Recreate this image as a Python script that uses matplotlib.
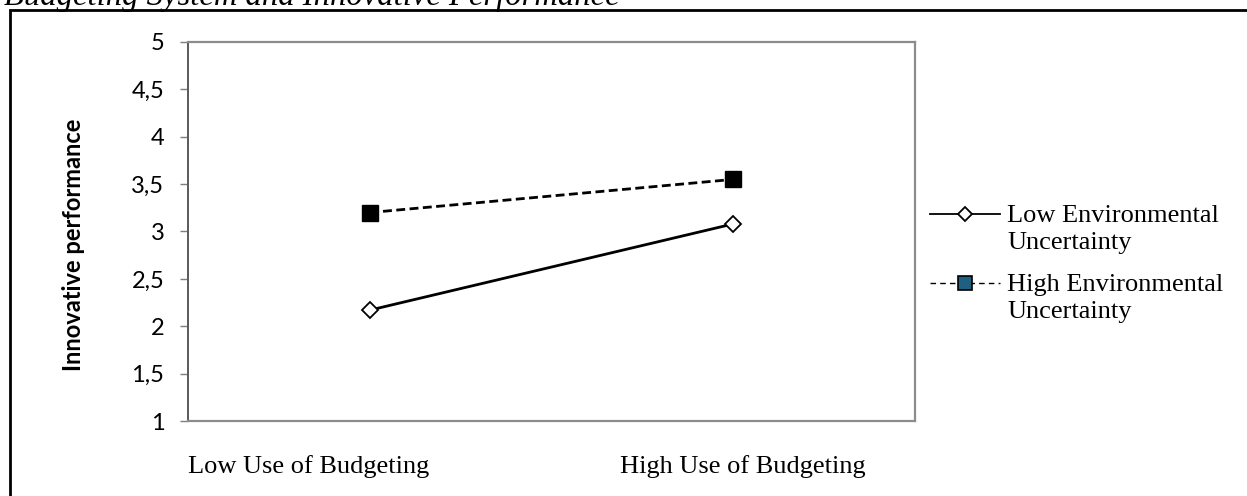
import numpy as np
import matplotlib
matplotlib.use("Agg")
import matplotlib.pyplot as plt
from matplotlib.legend_handler import HandlerLine2D
from matplotlib.patches import Rectangle

# ---- data ----
categories = ["Low Use of Budgeting", "High Use of Budgeting"]
low_uncertainty = [2.17, 3.08]
high_uncertainty = [3.20, 3.55]
series_labels = ["Low Environmental\nUncertainty", "High Environmental\nUncertainty"]
yticks = [1, 1.5, 2, 2.5, 3, 3.5, 4, 4.5, 5]
ytick_labels = ["1", "1,5", "2", "2,5", "3", "3,5", "4", "4,5", "5"]
title = "Budgeting System and Innovative Performance"
ylabel = "Innovative performance"

W, H = 1247, 496
fig = plt.figure(figsize=(W / 100, H / 100), dpi=100)

def fx(px):
    return px / W

def fy(py):
    return 1 - py / H

ax_left, ax_right, ax_top, ax_bot = 188, 915, 42, 421
ax = fig.add_axes([fx(ax_left), fy(ax_bot), fx(ax_right - ax_left), (ax_bot - ax_top) / H])

x = np.arange(len(categories))
ax.plot(x, low_uncertainty, color="black", lw=2.0, marker="D", markersize=8,
        markerfacecolor="white", markeredgecolor="black", markeredgewidth=1.3,
        label=series_labels[0], zorder=3)
ax.plot(x, high_uncertainty, color="black", lw=2.0, ls=(0, (3.2, 1.6)), marker="s",
        markersize=11, markerfacecolor="black", markeredgecolor="black",
        label=series_labels[1], zorder=3)

ax.set_xlim(-0.5, len(categories) - 0.5)
ax.set_ylim(1, 5)
ax.set_yticks(yticks)
ax.set_yticklabels(ytick_labels, fontfamily="Lato", fontsize=17)
ax.tick_params(axis="y", length=6, width=1.0, color="#7f7f7f", pad=11)
ax.set_xticks([])

for side in ["top", "right", "bottom"]:
    ax.spines[side].set_color("#8c8c8c")
    ax.spines[side].set_linewidth(1.6)
ax.spines["left"].set_color("#5a5a5a")
ax.spines["left"].set_linewidth(1.4)

ax.set_ylabel(ylabel, fontfamily="Lato", fontweight="bold", fontsize=17)
ax.yaxis.set_label_coords(-0.141, 0.465)

# x category labels
xlab_pos = [0.166, 0.763]
for p, c in zip(xlab_pos, categories):
    ax.text(p, -0.137, c, transform=ax.transAxes, ha="center", va="baseline",
            fontfamily="Liberation Serif", fontsize=19)


class TopAligned(HandlerLine2D):
    def __init__(self, shift=0.56, **kw):
        super().__init__(**kw)
        self.shift = shift

    def create_artists(self, legend, orig_handle, xdescent, ydescent, width,
                       height, fontsize, trans):
        arts = super().create_artists(legend, orig_handle, xdescent, ydescent,
                                      width, height, fontsize, trans)
        for a in arts:
            a.set_ydata(np.asarray(a.get_ydata()) + self.shift * fontsize)
        return arts


handles, labels = ax.get_legend_handles_labels()
leg = ax.legend(handles, labels, loc="upper left",
                bbox_to_anchor=(fx(930), fy(205)), bbox_transform=fig.transFigure,
                frameon=False, prop={"family": "Liberation Serif", "size": 19},
                handlelength=2.65, handletextpad=0.27, labelspacing=0.75,
                borderpad=0, borderaxespad=0,
                handler_map={h: TopAligned(shift=0.56) for h in handles})
for t in leg.get_texts():
    t.set_linespacing(1.3)
lh = leg.legend_handles
lh[0].set_linewidth(1.3)
lh[0].set_markersize(7.5)
lh[1].set_linewidth(1.0)
lh[1].set_linestyle((0, (4, 3)))
lh[1].set_markersize(9.5)
lh[1].set_markerfacecolor("#1f5f82")
lh[1].set_markeredgewidth(1.2)

# outer frame
fig.add_artist(Rectangle((fx(10), -0.05), 1.1, fy(10) + 0.05, transform=fig.transFigure,
                         fill=False, edgecolor="black", lw=2.0))

# title (clipped at top)
fig.text(fx(4), fy(4.5), title, ha="left", va="baseline", fontfamily="Liberation Serif",
         fontstyle="italic", fontsize=23.5)

fig.savefig("out.png", dpi=100)
